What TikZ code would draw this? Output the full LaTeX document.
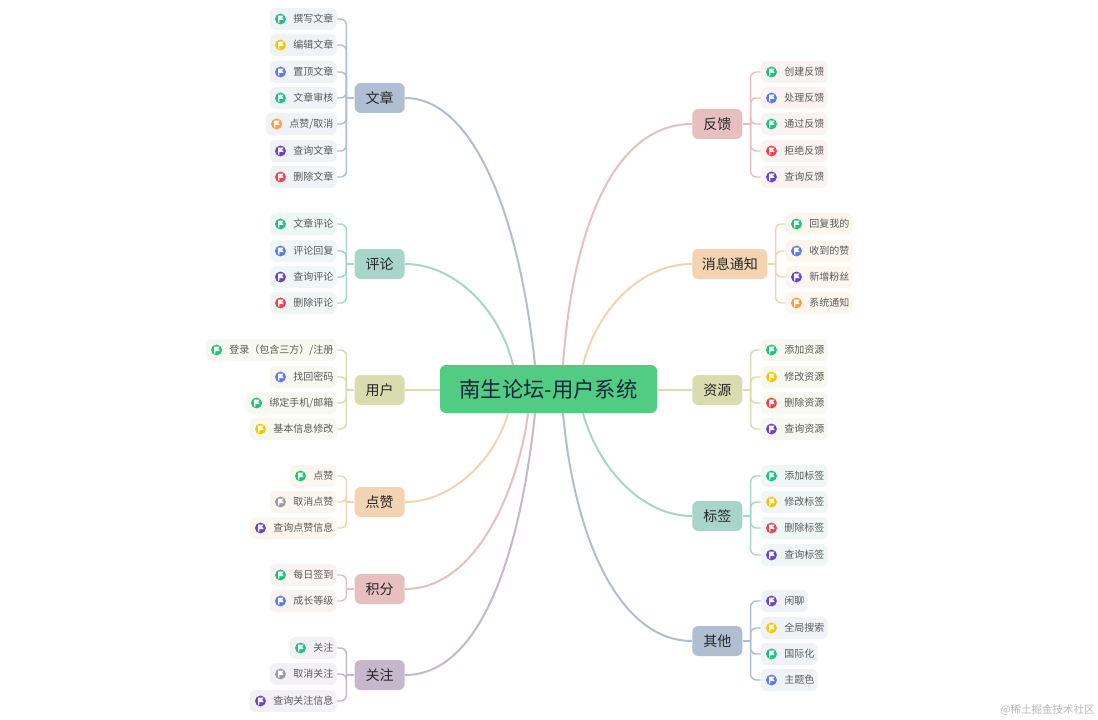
\documentclass[tikz,border=0pt]{standalone}
\usepackage{fontspec}
\setmainfont{Noto Sans CJK SC}
\definecolor{ig}{HTML}{1BC47D}
\definecolor{iy}{HTML}{F7C600}
\definecolor{ib}{HTML}{5B78FA}
\definecolor{io}{HTML}{FF9A3D}
\definecolor{ip}{HTML}{6A45C9}
\definecolor{ir}{HTML}{F5404F}
\definecolor{ia}{HTML}{9C9CA0}
\definecolor{eA}{HTML}{AFBFD1}\definecolor{bA}{HTML}{EFF2F6}
\definecolor{eB}{HTML}{A8D5C9}\definecolor{bB}{HTML}{EEF7F5}
\definecolor{eC}{HTML}{D8DCAE}\definecolor{bC}{HTML}{F7F8EF}
\definecolor{eD}{HTML}{F3D3B2}\definecolor{bD}{HTML}{FDF6EF}
\definecolor{eE}{HTML}{E8BFBF}\definecolor{bE}{HTML}{FBF3F2}
\definecolor{eF}{HTML}{C5B8CB}\definecolor{bF}{HTML}{F3F1F5}
\definecolor{tleaf}{HTML}{5A5A5A}
\definecolor{rootc}{HTML}{52CC83}
\definecolor{roott}{HTML}{14263A}
\definecolor{wmark}{HTML}{B8B8B8}
\tikzset{
  leafbox/.style={rounded corners=4.5pt,inner xsep=2.6pt,inner ysep=0pt,minimum height=16.5pt,text=tleaf,font=\fontsize{7.5pt}{9pt}\selectfont},
  topicbox/.style={rounded corners=4.5pt,inner xsep=0pt,inner ysep=0pt,minimum height=22.5pt,text=black!85,font=\fontsize{10.5pt}{12pt}\selectfont},
  rootbox/.style={rounded corners=4.5pt,fill=rootc,text=roott,minimum width=162.75pt,minimum height=36pt,inner sep=0pt,font=\fontsize{16pt}{18pt}\selectfont},
  sub/.style={line width=1.1pt,rounded corners=4.5pt},
  stub/.style={line width=1.1pt},
  mainedge/.style={line width=1.5pt},
  iconball/.style={circle,minimum size=8.2pt,inner sep=0pt},
}
\def\sl{/}
\newcommand{\FlagAt}[1]{%
  \begin{scope}[shift={(#1)}]
    \fill[white] (-2.4,-3.4) -- (3.2,-3.4) -- (1.6,-1.2) -- (3.2,1) -- (-1.1,1) -- (-1.1,3.6) -- (-2.4,3.6) -- cycle;
  \end{scope}}
% #1 name, #2 text, #3 y, #4 letter, #5 list
\newcommand{\BranchL}[5]{%
  \node[topicbox,fill=e#4,minimum width=37.5pt,anchor=east] (#1) at (405,#3) {\raisebox{-0.5pt}{#2}};
  \coordinate (#1-s) at ([xshift=-6pt]#1.west);
  \foreach \yy/\cc/\tt [count=\i] in {#5} {
    \node[leafbox,fill=b#4,anchor=east] (#1-\i) at (337,\yy) {\raisebox{-0.7pt}{\hspace*{15pt}\tt}};
    \node[iconball,fill=i\cc] (#1-\i-ic) at ([xshift=8.2pt]#1-\i.west) {};
    \FlagAt{#1-\i-ic}
    \draw[sub,draw=e#4] (#1-\i.east) -- (#1-\i.east -| #1-s) -- (#1.west -| #1-s);
  }
  \draw[stub,draw=e#4] (#1-s) -- (#1.west);
}
% #1 name, #2 text, #3 y, #4 letter, #5 width px, #6 list
\newcommand{\BranchR}[6]{%
  \node[topicbox,fill=e#4,minimum width=#5*0.75pt,anchor=west] (#1) at (692,#3) {\raisebox{-0.5pt}{#2}};
  \coordinate (#1-s) at ([xshift=6pt]#1.east);
  \foreach \yy/\cc/\tt [count=\i] in {#6} {
    \node[leafbox,fill=b#4,anchor=west] (#1-\i) at ([xshift=7.5pt]#1-s |- 0,\yy) {\raisebox{-0.7pt}{\hspace*{15pt}\tt}};
    \node[iconball,fill=i\cc] (#1-\i-ic) at ([xshift=8.2pt]#1-\i.west) {};
    \FlagAt{#1-\i-ic}
    \draw[sub,draw=e#4] (#1-\i.west) -- (#1-\i.west -| #1-s) -- (#1.east -| #1-s);
  }
  \draw[stub,draw=e#4] (#1-s) -- (#1.east);
}
\begin{document}
\begin{tikzpicture}[x=0.75pt,y=-0.75pt]
\useasboundingbox[fill=white] (0,0) rectangle (1098,720);
\node[rootbox] (root) at (548.5,389) {南生论坛-用户系统};
\BranchL{wz}{文章}{98}{A}{19/g/撰写文章,45/y/编辑文章,72/b/置顶文章,98/g/文章审核,124/o/点赞\sl 取消,151/p/查询文章,177/r/删除文章}
\BranchL{pl}{评论}{264}{B}{224/g/文章评论,251/b/评论回复,277/p/查询评论,303/r/删除评论}
\BranchL{yh}{用户}{390}{C}{350/g/登录（包含三方）\sl 注册,377/b/找回密码,403/g/绑定手机\sl 邮箱,429/y/基本信息修改}
\BranchL{dz}{点赞}{502}{D}{476/g/点赞,502/a/取消点赞,528/p/查询点赞信息}
\BranchL{jf}{积分}{589}{E}{575/g/每日签到,601/b/成长等级}
\BranchL{gz}{关注}{675}{F}{648/g/关注,674/a/取消关注,701/p/查询关注信息}
\BranchR{fk}{反馈}{124}{E}{50}{72/g/创建反馈,98/b/处理反馈,124/g/通过反馈,151/r/拒绝反馈,177/p/查询反馈}
\BranchR{xx}{消息通知}{264}{D}{75}{224/g/回复我的,251/b/收到的赞,277/p/新增粉丝,303/o/系统通知}
\BranchR{zy}{资源}{390}{C}{50}{350/g/添加资源,377/y/修改资源,403/r/删除资源,429/p/查询资源}
\BranchR{bq}{标签}{516}{B}{50}{476/g/添加标签,502/y/修改标签,528/r/删除标签,555/p/查询标签}
\BranchR{qt}{其他}{641}{A}{50}{601/p/闲聊,628/y/全局搜索,654/g/国际化,680/b/主题色}
\coordinate (r-wz) at (535,365);
\coordinate (r-pl) at (513,365);
\coordinate (r-dz) at (508,413);
\coordinate (r-jf) at (528,413);
\coordinate (r-gz) at (535,413);
\coordinate (r-fk) at (563,365);
\coordinate (r-xx) at (583,365);
\coordinate (r-bq) at (583,413);
\coordinate (r-qt) at (563,413);
\draw[mainedge,eA] (wz.east) .. controls (475,98) and (520,220) .. (r-wz);
\draw[mainedge,eB] (pl.east) .. controls (455,264) and (500,310) .. (r-pl);
\draw[mainedge,eC] (yh.east) -- (root.west |- yh.east);
\draw[mainedge,eD] (dz.east) .. controls (455,502) and (497,455) .. (r-dz);
\draw[mainedge,eE] (jf.east) .. controls (480,589) and (520,480) .. (r-jf);
\draw[mainedge,eF] (gz.east) .. controls (485,675) and (522,540) .. (r-gz);
\draw[mainedge,eE] (fk.west) .. controls (615,124) and (573,225) .. (r-fk);
\draw[mainedge,eD] (xx.west) .. controls (640,264) and (597,310) .. (r-xx);
\draw[mainedge,eC] (zy.west) -- (root.east |- zy.west);
\draw[mainedge,eB] (bq.west) .. controls (640,516) and (597,465) .. (r-bq);
\draw[mainedge,eA] (qt.west) .. controls (622,641) and (575,545) .. (r-qt);
\node[anchor=east,text=wmark,inner sep=0pt,font=\fontsize{7.9pt}{9pt}\selectfont] (wm) at (1095,710) {@稀土掘金技术社区};
\end{tikzpicture}
\end{document}
